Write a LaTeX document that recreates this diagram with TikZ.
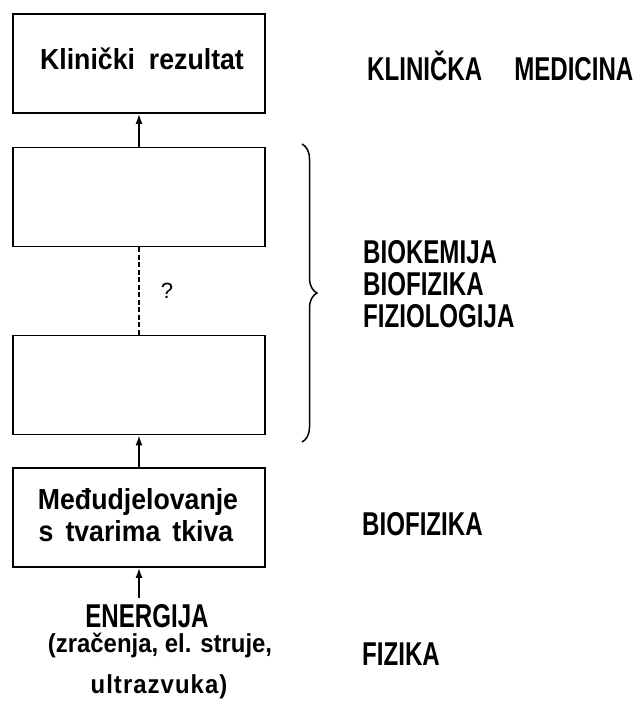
\documentclass[tikz,border=0pt]{standalone}
\usepackage{fontspec}
\setmainfont{Liberation Sans}
\newfontfamily\condf[FakeStretch=0.73]{Liberation Sans}
\newfontfamily\lowf[FakeStretch=0.92]{Liberation Sans}
\newfontfamily\lowsp[FakeStretch=0.92,LetterSpace=4]{Liberation Sans}
\usetikzlibrary{arrows.meta,decorations.pathreplacing}
\tikzset{
  blk/.style={draw, line width=1.7pt, minimum width=252pt, minimum height=99pt, inner sep=0pt},
  upar/.style={line width=1.6pt, -{Latex[length=10pt,width=7pt]}},
  caps/.style={font=\condf\bfseries\fontsize{33}{36}\selectfont, inner sep=0pt, anchor=base west},
  lower/.style={font=\lowf\bfseries\fontsize{29}{32}\selectfont, inner sep=0pt, anchor=base},
  lowsm/.style={font=\lowf\bfseries\fontsize{26}{30}\selectfont, inner sep=0pt, anchor=base},
}
\begin{document}
\begin{tikzpicture}[x=1pt,y=-1pt]
\useasboundingbox (0,0) rectangle (633,702);
\node[blk] (b1) at (139,63.5) {};
\node[lower] (t1) at (142,69) {Klinički\hspace{14pt}rezultat};
\node[blk] (b2) at (139,197) {};
\node[blk] (b3) at (139,385) {};
\node[blk] (b4) at (139,517.5) {};
\node[lower] (t4a) at (138,509) {Međudjelovanje};
\node[lower] (t4b) at (136,541) {s\hspace{12pt}tvarima\hspace{12pt}tkiva};
\node[caps, anchor=base] (en) at (147,627) {ENERGIJA};
\node[lowsm] (zr) at (160,652) {(zračenja, el. struje,};
\node[lowsm, font=\lowsp\bfseries\fontsize{26}{30}\selectfont] (uz) at (159,693) {ultrazvuka)};
\coordinate (ea) at (139,598);
\draw[upar] (b2.north) -- (b1.south);
\draw[upar] (b4.north) -- (b3.south);
\draw[upar] (ea) -- (b4.south);
\draw[line width=1.6pt, dash pattern=on 5pt off 2.5pt] (b2.south) -- (b3.north);
\node[font=\fontsize{22}{24}\selectfont, inner sep=0pt] (q) at (167,291) {?};
\coordinate (bt) at (302,144);
\coordinate (bb) at (302,442);
\draw[line width=1.5pt, decorate, decoration={brace, amplitude=15pt}] (bt) -- (bb);
\node[caps] (km) at (367,80) {KLINIČKA\hspace{32pt}MEDICINA};
\node[caps] (bio1) at (363,263) {BIOKEMIJA};
\node[caps] (bio2) at (363,295) {BIOFIZIKA};
\node[caps] (bio3) at (363,327) {FIZIOLOGIJA};
\node[caps] (bf) at (362,535) {BIOFIZIKA};
\node[caps] (fz) at (362,665) {FIZIKA};
\end{tikzpicture}
\end{document}
